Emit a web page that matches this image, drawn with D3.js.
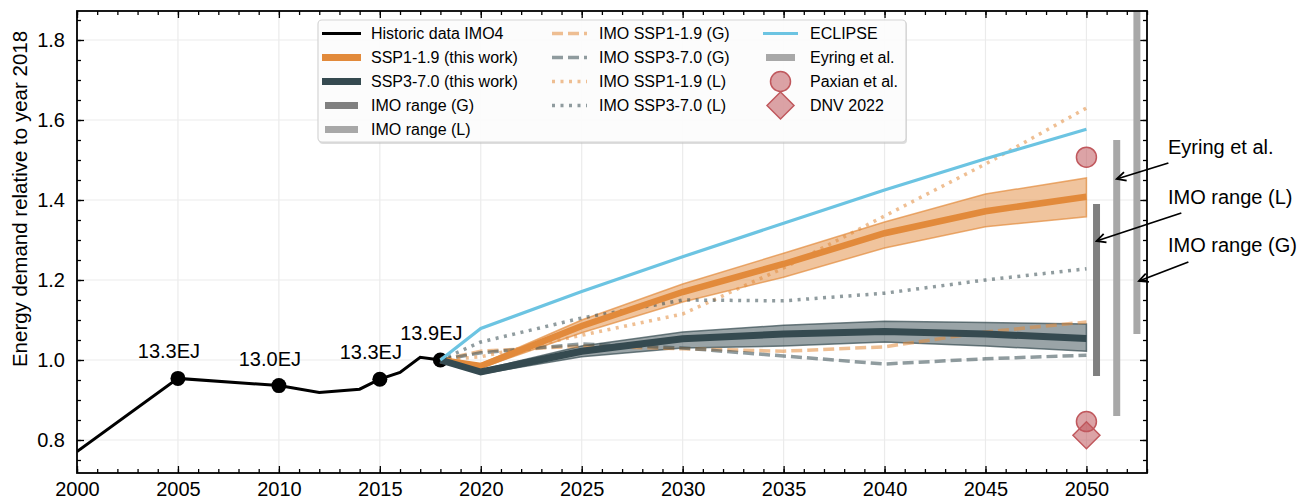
<!DOCTYPE html>
<meta charset="utf-8">
<script src="https://cdnjs.cloudflare.com/ajax/libs/d3/7.8.5/d3.min.js"></script>
<style>
body { margin: 0; background: #fff; }
svg { font-family: "Liberation Sans", Arial, Helvetica, sans-serif; }
.tick text { font-size: 20px; fill: #000; }
.axis path { display: none; }
.axis line { stroke: #000; stroke-width: 1.3; }
.grid line { stroke: #ebebeb; stroke-width: 1.2; }
.legend text { font-size: 16px; }
</style>
<svg id="chart" width="1309" height="500"></svg>
<script>
// ---- data ----
var histYears = [2000, 2005, 2010, 2012, 2014, 2015, 2016, 2017, 2018];
var histValues = [0.771, 0.954, 0.936, 0.919, 0.927, 0.952, 0.969, 1.007, 1.0];
var labelYears = [2005, 2010, 2015, 2018];
var labelValues = [0.954, 0.936, 0.952, 1.0];
var labelTexts = ["13.3EJ", "13.0EJ", "13.3EJ", "13.9EJ"];

var projYears = [2018, 2020, 2025, 2030, 2035, 2040, 2045, 2050];
var ssp1 = [1.0, 0.985, 1.085, 1.17, 1.24, 1.317, 1.372, 1.408];
var ssp1Low = [1.0, 0.98, 1.068, 1.145, 1.207, 1.28, 1.333, 1.358];
var ssp1High = [1.0, 0.99, 1.10, 1.19, 1.267, 1.345, 1.415, 1.455];
var ssp3 = [1.0, 0.97, 1.022, 1.053, 1.065, 1.071, 1.065, 1.054];
var ssp3Low = [1.0, 0.965, 1.008, 1.03, 1.035, 1.045, 1.035, 1.022];
var ssp3High = [1.0, 0.975, 1.035, 1.07, 1.087, 1.097, 1.094, 1.09];
var eclipse = [1.0, 1.079, 1.171, 1.258, 1.342, 1.425, 1.503, 1.577];
var imoSsp1G = [1.0, 1.022, 1.035, 1.028, 1.022, 1.033, 1.07, 1.095];
var imoSsp3G = [1.0, 1.018, 1.04, 1.03, 1.01, 0.99, 1.003, 1.012];
var imoSsp1L = [1.0, 1.008, 1.062, 1.115, 1.23, 1.36, 1.49, 1.63];
var imoSsp3L = [1.0, 1.045, 1.105, 1.15, 1.148, 1.167, 1.2, 1.228];

var rangeNames = ["IMO range (L)", "Eyring et al.", "IMO range (G)"];
var rangeYears = [2050.5, 2051.5, 2052.5];
var rangeLow = [0.96, 0.86, 1.065];
var rangeHigh = [1.39, 1.55, 1.95];

var paxianYear = 2050;
var paxianValues = [1.507, 0.846];
var dnvYear = 2050;
var dnvValues = [0.812];

var xMajor = d3.range(2000, 2051, 5);
var xMinor = d3.range(2000, 2054, 1);
var yMajor = [0.8, 1.0, 1.2, 1.4, 1.6, 1.8];
var yMinor = d3.range(0.75, 1.86, 0.05);

// ---- colours ----
var cOrange = "#e28a3b", cSlate = "#354a50", cSky = "#6cc4e2";
var cRangeG = "#808080", cRangeL = "#a8a8a8", cRed = "#c0585d";

var svg = d3.select("#chart");
var pL = 77, pR = 1147, pT = 11, pB = 473;

var x = d3.scaleLinear().domain([2000, 2053]).range([pL, pR]);
var y = d3.scaleLinear().domain([0.7175, 1.8725]).range([pB, pT]);

svg.append("defs").append("clipPath").attr("id", "plotclip")
  .append("rect").attr("x", pL).attr("y", pT)
  .attr("width", pR - pL).attr("height", pB - pT);

// grid
var grid = svg.append("g").attr("class", "grid");
grid.selectAll(".gx").data(xMajor).enter().append("line")
  .attr("x1", d => x(d)).attr("x2", d => x(d)).attr("y1", pT).attr("y2", pB);
grid.selectAll(".gy").data(yMajor).enter().append("line")
  .attr("y1", d => y(d)).attr("y2", d => y(d)).attr("x1", pL).attr("x2", pR);

// axes (ticks inward, all four sides)
function ax(gen, tr, vals, size, fmt, pad) {
  svg.append("g").attr("class", "axis").attr("transform", tr)
    .call(gen.tickValues(vals).tickSize(-size).tickPadding(pad || 3).tickFormat(fmt));
}
ax(d3.axisBottom(x), "translate(0," + pB + ")", xMinor, 4, "");
ax(d3.axisBottom(x), "translate(0," + pB + ")", xMajor, 7, d3.format("d"), 9);
ax(d3.axisTop(x), "translate(0," + pT + ")", xMinor, 4, "");
ax(d3.axisTop(x), "translate(0," + pT + ")", xMajor, 7, "");
ax(d3.axisLeft(y), "translate(" + pL + ",0)", yMinor, 4, "");
ax(d3.axisLeft(y), "translate(" + pL + ",0)", yMajor, 7, d3.format(".1f"), 12);
ax(d3.axisRight(y), "translate(" + pR + ",0)", yMinor, 4, "");
ax(d3.axisRight(y), "translate(" + pR + ",0)", yMajor, 7, "");

svg.append("text")
  .attr("transform", "translate(27,199) rotate(-90)")
  .attr("text-anchor", "middle").style("font-size", "20.5px")
  .text("Energy demand relative to year 2018");

var plot = svg.append("g").attr("clip-path", "url(#plotclip)");

var line = d3.line().x(d => x(d[0])).y(d => y(d[1]));
function pts(xs, vs) { return xs.map((v, i) => [v, vs[i]]); }

// historic
plot.append("path").datum(pts(histYears, histValues)).attr("d", line)
  .attr("fill", "none").attr("stroke", "#000").attr("stroke-width", 3);
plot.selectAll(".hm").data(pts(labelYears, labelValues)).enter().append("circle")
  .attr("cx", d => x(d[0])).attr("cy", d => y(d[1])).attr("r", 7.5).attr("fill", "#000");
svg.selectAll(".hl").data(labelTexts).enter().append("text")
  .attr("x", (d, i) => x(labelYears[i]) - 9).attr("y", (d, i) => y(labelValues[i]) - 20)
  .attr("text-anchor", "middle").style("font-size", "20px").text(d => d);

// bands
var area = d3.area().x(d => x(d[0])).y0(d => y(d[1])).y1(d => y(d[2]));
function band(lo, hi, col) {
  plot.append("path").datum(projYears.map((v, i) => [v, lo[i], hi[i]])).attr("d", area)
    .attr("fill", col).attr("fill-opacity", 0.5)
    .attr("stroke", col).attr("stroke-opacity", 0.7).attr("stroke-width", 1.5);
}
band(ssp1Low, ssp1High, cOrange);
band(ssp3Low, ssp3High, cSlate);

function series(vals, col, w, dash, op) {
  plot.append("path").datum(pts(projYears, vals)).attr("d", line)
    .attr("fill", "none").attr("stroke", col).attr("stroke-width", w)
    .attr("stroke-dasharray", dash || null).attr("stroke-opacity", op || 1);
}
series(imoSsp1G, cOrange, 3.5, "11,5", 0.55);
series(imoSsp3G, cSlate, 3.5, "11,5", 0.55);
series(imoSsp1L, cOrange, 3.5, "3,5.5", 0.55);
series(imoSsp3L, cSlate, 3.5, "3,5.5", 0.55);
series(ssp1, cOrange, 6.5);
series(ssp3, cSlate, 7);
series(eclipse, cSky, 3.2);

// range bars
plot.selectAll(".rb").data(rangeYears).enter().append("line")
  .attr("x1", d => x(d)).attr("x2", d => x(d))
  .attr("y1", (d, i) => y(rangeLow[i])).attr("y2", (d, i) => y(rangeHigh[i]))
  .attr("stroke", (d, i) => i === 0 ? cRangeG : cRangeL).attr("stroke-width", 7);

// Paxian & DNV
plot.selectAll(".px").data(paxianValues).enter().append("circle")
  .attr("cx", x(paxianYear)).attr("cy", d => y(d)).attr("r", 10)
  .attr("fill", cRed).attr("fill-opacity", 0.55).attr("stroke", cRed).attr("stroke-width", 1.5);
var diamond = "M0,-13.5L13.5,0L0,13.5L-13.5,0Z";
plot.selectAll(".dn").data(dnvValues).enter().append("path")
  .attr("d", diamond).attr("transform", d => "translate(" + x(dnvYear) + "," + y(d) + ")")
  .attr("fill", cRed).attr("fill-opacity", 0.55).attr("stroke", cRed).attr("stroke-width", 1.5);

// annotations
svg.append("defs").append("marker").attr("id", "arr")
  .attr("viewBox", "-10 -6 12 12").attr("refX", 0).attr("refY", 0)
  .attr("markerWidth", 12).attr("markerHeight", 12).attr("markerUnits", "userSpaceOnUse")
  .attr("orient", "auto")
  .append("path").attr("d", "M-9,-4.5L0,0L-9,4.5").attr("fill", "none")
  .attr("stroke", "#000").attr("stroke-width", 1.8);
var notes = [
  {text: "Eyring et al.", ty: 1.533, from: [2054.06, 1.4925], to: [2051.5, 1.4525]},
  {text: "IMO range (L)", ty: 1.408, from: [2054.7, 1.3675], to: [2050.5, 1.2975]},
  {text: "IMO range (G)", ty: 1.287, from: [2055.05, 1.245], to: [2052.6, 1.1975]}
];
notes.forEach(function(n) {
  svg.append("text").attr("x", 1168).attr("y", y(n.ty)).attr("dy", "0.35em")
    .style("font-size", "20px").text(n.text);
  svg.append("line").attr("x1", x(n.from[0])).attr("y1", y(n.from[1]))
    .attr("x2", x(n.to[0])).attr("y2", y(n.to[1]))
    .attr("stroke", "#000").attr("stroke-width", 1.8).attr("marker-end", "url(#arr)");
});

// frame
svg.append("rect").attr("x", pL).attr("y", pT).attr("width", pR - pL).attr("height", pB - pT)
  .attr("fill", "none").attr("stroke", "#000").attr("stroke-width", 1.8);

// legend
var lg = svg.append("g").attr("class", "legend");
lg.append("rect").attr("x", 319).attr("y", 21).attr("width", 588).attr("height", 123).attr("rx", 4)
  .attr("fill", "#bbb").attr("opacity", 0.5);
lg.append("rect").attr("x", 318).attr("y", 20).attr("width", 588).attr("height", 122).attr("rx", 4)
  .attr("fill", "#fff").attr("fill-opacity", 0.9).attr("stroke", "#d4d4d4").attr("stroke-width", 1.2);

var legendItems = [
  {col: 0, row: 0, label: "Historic data IMO4", type: "line", color: "#000", w: 3},
  {col: 0, row: 1, label: "SSP1-1.9 (this work)", type: "line", color: cOrange, w: 7},
  {col: 0, row: 2, label: "SSP3-7.0 (this work)", type: "line", color: cSlate, w: 7},
  {col: 0, row: 3, label: "IMO range (G)", type: "bar", color: cRangeG, w: 7},
  {col: 0, row: 4, label: "IMO range (L)", type: "bar", color: cRangeL, w: 7},
  {col: 1, row: 0, label: "IMO SSP1-1.9 (G)", type: "line", color: cOrange, w: 3.5, dash: "11,5", op: 0.55},
  {col: 1, row: 1, label: "IMO SSP3-7.0 (G)", type: "line", color: cSlate, w: 3.5, dash: "11,5", op: 0.55},
  {col: 1, row: 2, label: "IMO SSP1-1.9 (L)", type: "line", color: cOrange, w: 3.5, dash: "3,5.5", op: 0.55},
  {col: 1, row: 3, label: "IMO SSP3-7.0 (L)", type: "line", color: cSlate, w: 3.5, dash: "3,5.5", op: 0.55},
  {col: 2, row: 0, label: "ECLIPSE", type: "line", color: cSky, w: 3},
  {col: 2, row: 1, label: "Eyring et al.", type: "bar", color: cRangeL, w: 7},
  {col: 2, row: 2, label: "Paxian et al.", type: "circle", color: cRed},
  {col: 2, row: 3, label: "DNV 2022", type: "diamond", color: cRed}
];
var colX = [[322, 361, 371], [552, 587, 599], [763, 798, 810]];
legendItems.forEach(function(it) {
  var cx = colX[it.col], cy = 33.5 + it.row * 24;
  if (it.type === "line" || it.type === "bar") {
    lg.append("line").attr("x1", cx[0] + (it.type === "bar" ? 3 : 0)).attr("x2", cx[1] - (it.type === "bar" ? 3 : 0))
      .attr("y1", cy).attr("y2", cy).attr("stroke", it.color).attr("stroke-width", it.w)
      .attr("stroke-dasharray", it.dash || null).attr("stroke-opacity", it.op || 1);
  } else if (it.type === "circle") {
    lg.append("circle").attr("cx", (cx[0] + cx[1]) / 2).attr("cy", cy).attr("r", 10)
      .attr("fill", it.color).attr("fill-opacity", 0.55).attr("stroke", it.color).attr("stroke-width", 1.5);
  } else {
    lg.append("path").attr("d", diamond).attr("transform", "translate(" + (cx[0] + cx[1]) / 2 + "," + cy + ")")
      .attr("fill", it.color).attr("fill-opacity", 0.55).attr("stroke", it.color).attr("stroke-width", 1.5);
  }
  lg.append("text").attr("x", cx[2]).attr("y", cy).attr("dy", "0.35em").text(it.label);
});
</script>
